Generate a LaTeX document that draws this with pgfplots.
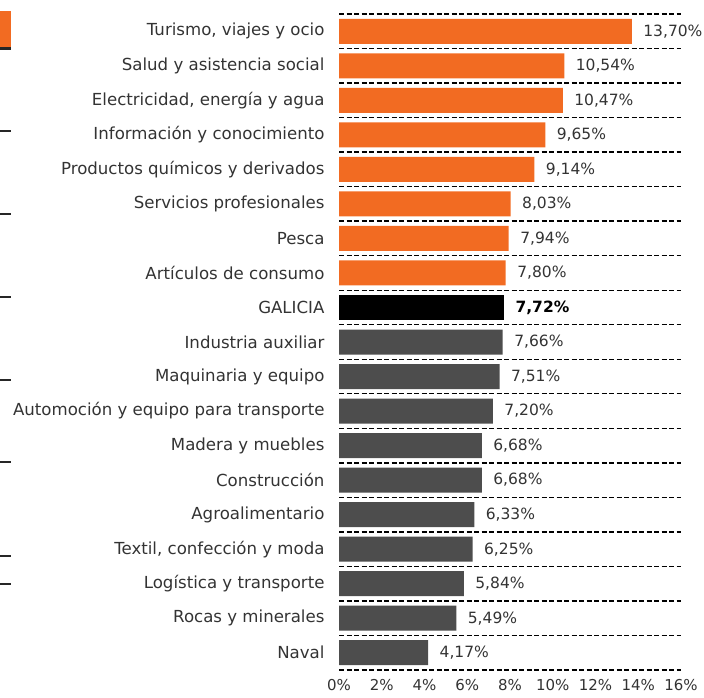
\documentclass[border=0pt]{standalone}
\usepackage{pgfplots}
\pgfplotsset{compat=1.18}
\usepackage{fontspec}
\setmainfont{DejaVu Sans}
\definecolor{orng}{HTML}{F26B22}
\definecolor{dgray}{HTML}{4D4D4D}
\definecolor{txt}{HTML}{333333}
\pgfkeys{/pgf/number format/assume math mode=true}
\begin{document}
\begin{tikzpicture}
\path[use as bounding box] (0pt,0pt) rectangle (704pt,697pt);
% fragments of a neighbouring chart at the left edge
\fill[orng] (0pt,650pt) rectangle (11pt,686pt);
\fill[black!85] (0pt,647pt) rectangle (11pt,650pt);
\foreach \yy in {131,214,297,380,462,556,584} \fill[black!85] (0pt,697pt-\yy pt-1pt) rectangle (11pt,697pt-\yy pt+1pt);
\begin{axis}[at={(339pt,27pt)}, anchor=south west, scale only axis,
  width=342pt, height=656pt,
  xbar, bar width=25pt, bar shift=0pt,
  xmin=0, xmax=16, ymin=-0.5, ymax=18.5, y dir=reverse,
  axis line style={draw=none}, major tick length=0pt, minor tick length=0pt,
  ytick={0,...,18},
  yticklabels={Turismo{,} viajes y ocio, Salud y asistencia social, Electricidad{,} energía y agua, Información y conocimiento, Productos químicos y derivados, Servicios profesionales, Pesca, Artículos de consumo, GALICIA, Industria auxiliar, Maquinaria y equipo, Automoción y equipo para transporte, Madera y muebles, Construcción, Agroalimentario, Textil{,} confección y moda, Logística y transporte, Rocas y minerales, Naval},
  xtick={0,2,...,16}, xticklabel={\pgfmathprintnumber{\tick}\%},
  minor ytick={-0.5,0.5,...,18.5}, yminorgrids,
  minor grid style={black, dash pattern=on 5pt off 2.5pt, line width=1.4pt},
  yticklabel style={anchor=east, xshift=-11pt, font=\fontsize{16.6}{19}\selectfont, text=txt},
  xticklabel style={anchor=north, yshift=-6pt, font=\fontsize{15}{17}\selectfont, text=txt},
  point meta=x,
  nodes near coords={\pgfmathprintnumber[fixed,fixed zerofill,precision=2,use comma,assume math mode=true]{\pgfplotspointmeta}\%},
  nodes near coords style={anchor=west, xshift=8pt, font=\fontsize{15.5}{18}\selectfont, text=txt},
]
\addplot[fill=orng, draw=none] coordinates {(13.70,0) (10.54,1) (10.47,2) (9.65,3) (9.14,4) (8.03,5) (7.94,6) (7.80,7)};
\addplot[fill=black, draw=none, nodes near coords style={font=\fontsize{15.5}{18}\selectfont\bfseries, text=black}] coordinates {(7.72,8)};
\addplot[fill=dgray, draw=none] coordinates {(7.66,9) (7.51,10) (7.20,11) (6.68,12) (6.68,13) (6.33,14) (6.25,15) (5.84,16) (5.49,17) (4.17,18)};
\end{axis}
\end{tikzpicture}
\end{document}
